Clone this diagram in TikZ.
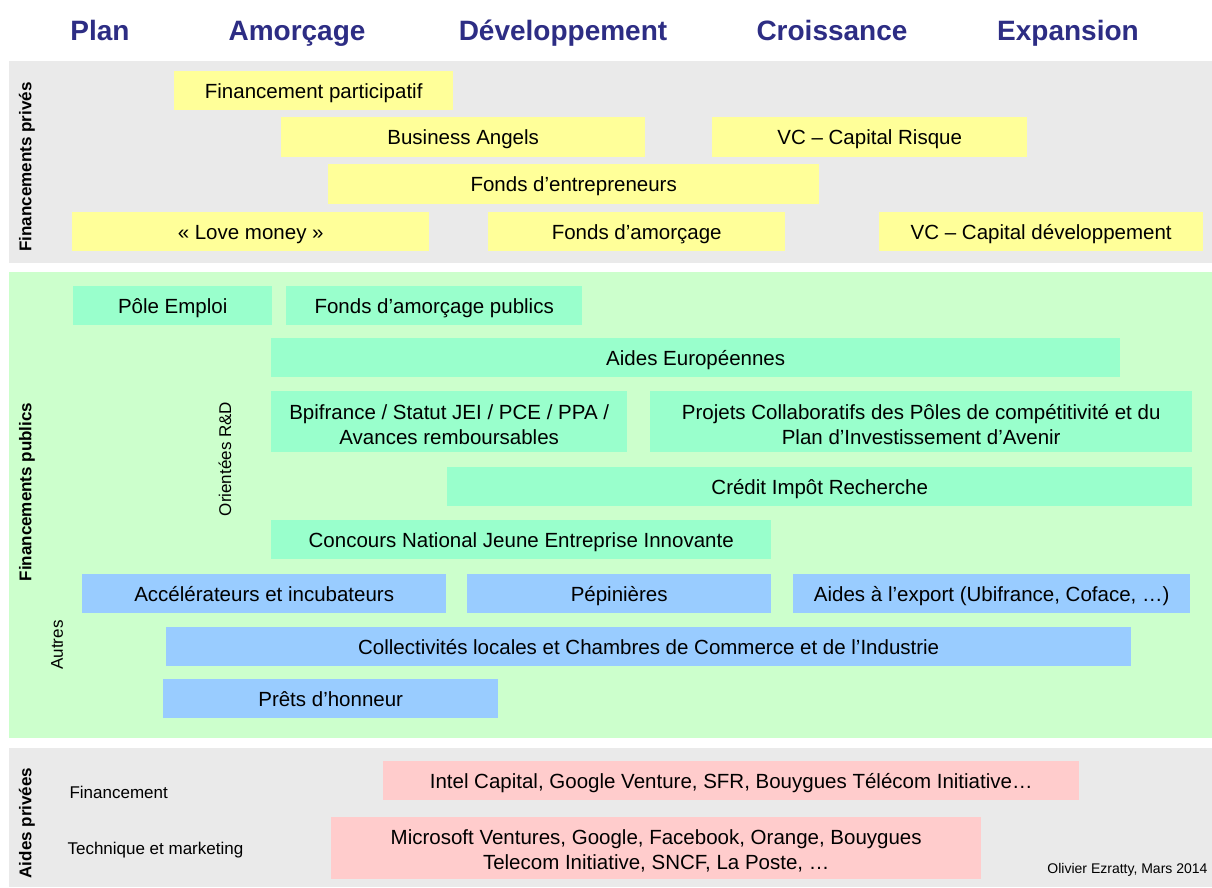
\documentclass[tikz,border=0pt]{standalone}
\usepackage{fontspec}
\setmainfont{Liberation Sans}
\definecolor{hdr}{HTML}{2D2D84}
\definecolor{cyel}{HTML}{FFFF99}
\definecolor{cteal}{HTML}{99FFCC}
\definecolor{cblue}{HTML}{99CCFF}
\definecolor{cpink}{HTML}{FFCCCC}
\definecolor{cgray}{HTML}{EAEAEA}
\definecolor{cgreen}{HTML}{CCFFCC}
\tikzset{
  boxbase/.style={anchor=north west, inner sep=0pt, align=center, font=\fontsize{20.5}{25}\selectfont, text height=14.7pt, text depth=0pt},
  twoline/.style={text height=, text depth=},
  ybox/.style={boxbase, fill=cyel},
  tbox/.style={boxbase, fill=cteal},
  bbox/.style={boxbase, fill=cblue},
  pbox/.style={boxbase, fill=cpink},
  hdrlbl/.style={anchor=base, text=hdr, font=\fontsize{28}{32}\selectfont\bfseries},
  sidelbl/.style={rotate=90, font=\fontsize{17}{20}\selectfont\bfseries},
  sublbl/.style={font=\fontsize{17}{20}\selectfont},
}
\newcommand{\bx}[7]{\node[#2, minimum width=#5pt-#3pt, minimum height=#6pt-#4pt] (#1) at (#3,#4) {#7};}
\newcommand{\bxtwo}[8]{\node[#2, minimum width=#5pt-#3pt, minimum height=#6pt-#4pt] (#1) at (#3,#4) {};
  \node[font=\fontsize{20.5}{25}\selectfont, align=center, inner sep=0pt, yshift=-3pt] (#1t) at (#1.center) {#7\\#8};}
\begin{document}
\begin{tikzpicture}[x=1pt,y=-1pt]
\useasboundingbox (0,0) rectangle (1212,887);
% bands
\fill[cgray] (9,61) rectangle (1212,263);
\fill[cgreen] (9,272) rectangle (1212,738);
\fill[cgray] (9,748) rectangle (1212,887);
% headers
\node[hdrlbl] (h1) at (100,40) {Plan};
\node[hdrlbl] (h2) at (297,40) {Amorçage};
\node[hdrlbl] (h3) at (563,40) {Développement};
\node[hdrlbl] (h4) at (832,40) {Croissance};
\node[hdrlbl] (h5) at (1068,40) {Expansion};
% side labels
\node[sidelbl] (s1) at (27,167) {Financements privés};
\node[sidelbl] (s2) at (27,492) {Financements publics};
\node[sidelbl] (s3) at (27,823) {Aides privées};
\node[sublbl, rotate=90] (s4) at (225,459) {Orientées R\&D};
\node[sublbl, rotate=90] (s5) at (57,645) {Autres};
\node[sublbl, anchor=west] (s6) at (66,792) {Financement};
\node[sublbl, anchor=west] (s7) at (64,850) {Technique et marketing};
\node[anchor=east, font=\fontsize{14}{16}\selectfont] (sig) at (1211,870) {Olivier Ezratty, Mars 2014};
% private
\bx{y1}{ybox}{174}{71}{453}{110}{Financement participatif}
\bx{y2}{ybox}{281}{117}{645}{157}{Business Angels}
\bx{y3}{ybox}{712}{117}{1027}{157}{VC – Capital Risque}
\bx{y4}{ybox}{328}{164}{819}{204}{Fonds d’entrepreneurs}
\bx{y5}{ybox}{72}{212}{429}{251}{« Love money »}
\bx{y6}{ybox}{488}{212}{785}{251}{Fonds d’amorçage}
\bx{y7}{ybox}{879}{212}{1203}{251}{VC – Capital développement}
% public
\bx{t1}{tbox}{73}{286}{272}{325}{Pôle Emploi}
\bx{t2}{tbox}{286}{286}{582}{325}{Fonds d’amorçage publics}
\bx{t3}{tbox}{271}{338}{1120}{377}{Aides Européennes}
\bxtwo{t4}{tbox}{271}{391}{627}{452}{Bpifrance / Statut JEI / PCE / PPA /}{Avances remboursables}
\bxtwo{t5}{tbox}{650}{391}{1192}{452}{Projets Collaboratifs des Pôles de compétitivité et du}{Plan d’Investissement d’Avenir}
\bx{t6}{tbox}{447}{467}{1192}{506}{Crédit Impôt Recherche}
\bx{t7}{tbox}{271}{520}{771}{559}{Concours National Jeune Entreprise Innovante}
\bx{b1}{bbox}{82}{574}{446}{613}{Accélérateurs et incubateurs}
\bx{b2}{bbox}{467}{574}{771}{613}{Pépinières}
\bx{b3}{bbox}{793}{574}{1190}{613}{Aides à l’export (Ubifrance, Coface, …)}
\bx{b4}{bbox}{166}{627}{1131}{666}{Collectivités locales et Chambres de Commerce et de l’Industrie}
\bx{b5}{bbox}{163}{679}{498}{718}{Prêts d’honneur}
% aides privees
\bx{p1}{pbox}{383}{761}{1079}{800}{Intel Capital, Google Venture, SFR, Bouygues Télécom Initiative…}
\bxtwo{p2}{pbox}{331}{817}{981}{879}{Microsoft Ventures, Google, Facebook, Orange, Bouygues}{Telecom Initiative, SNCF, La Poste, …}
\end{tikzpicture}
\end{document}
